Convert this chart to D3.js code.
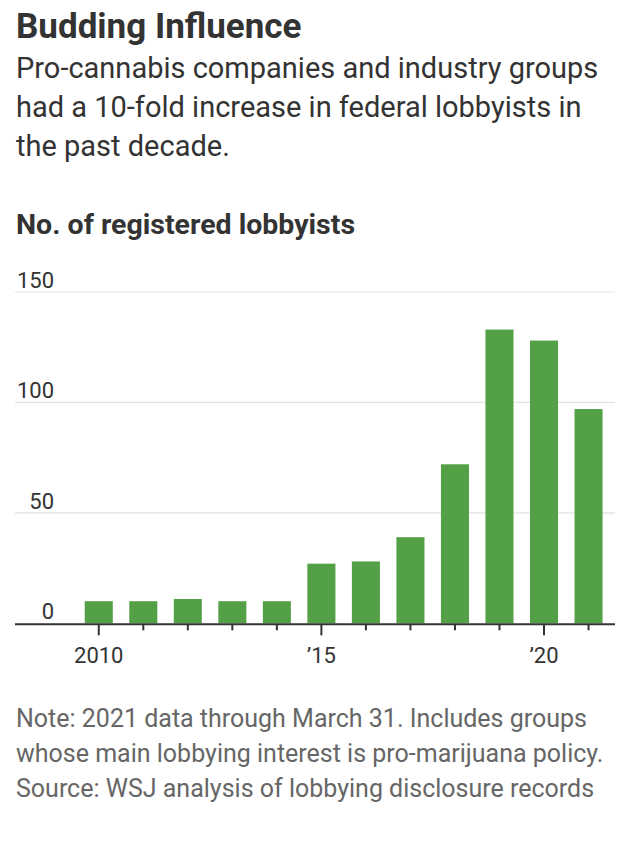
<!DOCTYPE html>
<html>
<head>
<meta charset="utf-8">
<script src="https://cdn.jsdelivr.net/npm/d3@7"></script>
<style>
  body { margin: 0; background: #fff; }
  svg text { font-family: Roboto, "Noto Sans", sans-serif; }
</style>
</head>
<body>
<div class="container"></div>
<script>
// data
var years = [2010, 2011, 2012, 2013, 2014, 2015, 2016, 2017, 2018, 2019, 2020, 2021];
var lobbyists = [10, 10, 11, 10, 10, 27, 28, 39, 72, 133, 128, 97];
var yTicks = [0, 50, 100, 150];
var majorYears = [2010, 2015, 2020];
var majorLabels = ["2010", "\u201915", "\u201920"];

var width = 630, height = 841;
var left = 15, right = 615;

var svg = d3.select(".container")
    .append("svg")
        .attr("width", width)
        .attr("height", height);

// header text
svg.append("text")
    .attr("x", 16).attr("y", 38)
    .attr("font-size", "35px").attr("font-weight", 700)
    .attr("fill", "#333")
    .text("Budding Influence");

var sub = ["Pro-cannabis companies and industry groups",
           "had a 10-fold increase in federal lobbyists in",
           "the past decade."];
svg.selectAll("text.sub")
    .data(sub)
    .enter()
    .append("text")
        .attr("class", "sub")
        .attr("x", 16)
        .attr("y", (d, i) => 78 + i * 39)
        .attr("font-size", "29px")
        .attr("fill", "#333")
        .text(d => d);

svg.append("text")
    .attr("x", 16).attr("y", 234)
    .attr("font-size", "28.5px").attr("font-weight", 700)
    .attr("fill", "#333")
    .text("No. of registered lobbyists");

// scales
var y = d3.scaleLinear().domain([0, 150]).range([623.3, 292]);
var x = d3.scaleBand()
    .domain(years)
    .range([76.5, 610.8])
    .paddingInner(0.37)
    .paddingOuter(0.185);

// gridlines
svg.selectAll("line.grid")
    .data(yTicks.filter(d => d > 0))
    .enter()
    .append("line")
        .attr("class", "grid")
        .attr("x1", left).attr("x2", right)
        .attr("y1", d => y(d)).attr("y2", d => y(d))
        .attr("stroke", "#e2e2e2")
        .attr("stroke-width", 1.2);

svg.selectAll("text.ylab")
    .data(yTicks)
    .enter()
    .append("text")
        .attr("class", "ylab")
        .attr("x", 54)
        .attr("y", d => y(d) - 4)
        .attr("text-anchor", "end")
        .attr("font-size", "22px")
        .attr("fill", "#333")
        .text(d => d);

// bars
svg.selectAll("rect.bar")
    .data(years)
    .enter()
    .append("rect")
        .attr("class", "bar")
        .attr("x", d => x(d))
        .attr("width", x.bandwidth())
        .attr("y", (d, i) => y(lobbyists[i]))
        .attr("height", (d, i) => y(0) - y(lobbyists[i]))
        .attr("fill", "#53a047");

// x axis: baseline + ticks
svg.append("line")
    .attr("x1", left).attr("x2", right)
    .attr("y1", y(0) + 1).attr("y2", y(0) + 1)
    .attr("stroke", "#333")
    .attr("stroke-width", 2);

svg.selectAll("line.tick")
    .data(years)
    .enter()
    .append("line")
        .attr("class", "tick")
        .attr("x1", d => x(d) + x.bandwidth() / 2)
        .attr("x2", d => x(d) + x.bandwidth() / 2)
        .attr("y1", y(0) + 1)
        .attr("y2", d => y(0) + (majorYears.includes(d) ? 12 : 7))
        .attr("stroke", "#333")
        .attr("stroke-width", 2);

svg.selectAll("text.xlab")
    .data(majorYears)
    .enter()
    .append("text")
        .attr("class", "xlab")
        .attr("x", d => x(d) + x.bandwidth() / 2)
        .attr("y", 663)
        .attr("text-anchor", "middle")
        .attr("font-size", "22px")
        .attr("fill", "#333")
        .text((d, i) => majorLabels[i]);

// footnote
var notes = ["Note: 2021 data through March 31. Includes groups",
             "whose main lobbying interest is pro-marijuana policy.",
             "Source: WSJ analysis of lobbying disclosure records"];
svg.selectAll("text.note")
    .data(notes)
    .enter()
    .append("text")
        .attr("class", "note")
        .attr("x", 16)
        .attr("y", (d, i) => 727 + i * 35)
        .attr("font-size", "25px")
        .attr("fill", "#666")
        .text(d => d);
</script>
</body>
</html>
